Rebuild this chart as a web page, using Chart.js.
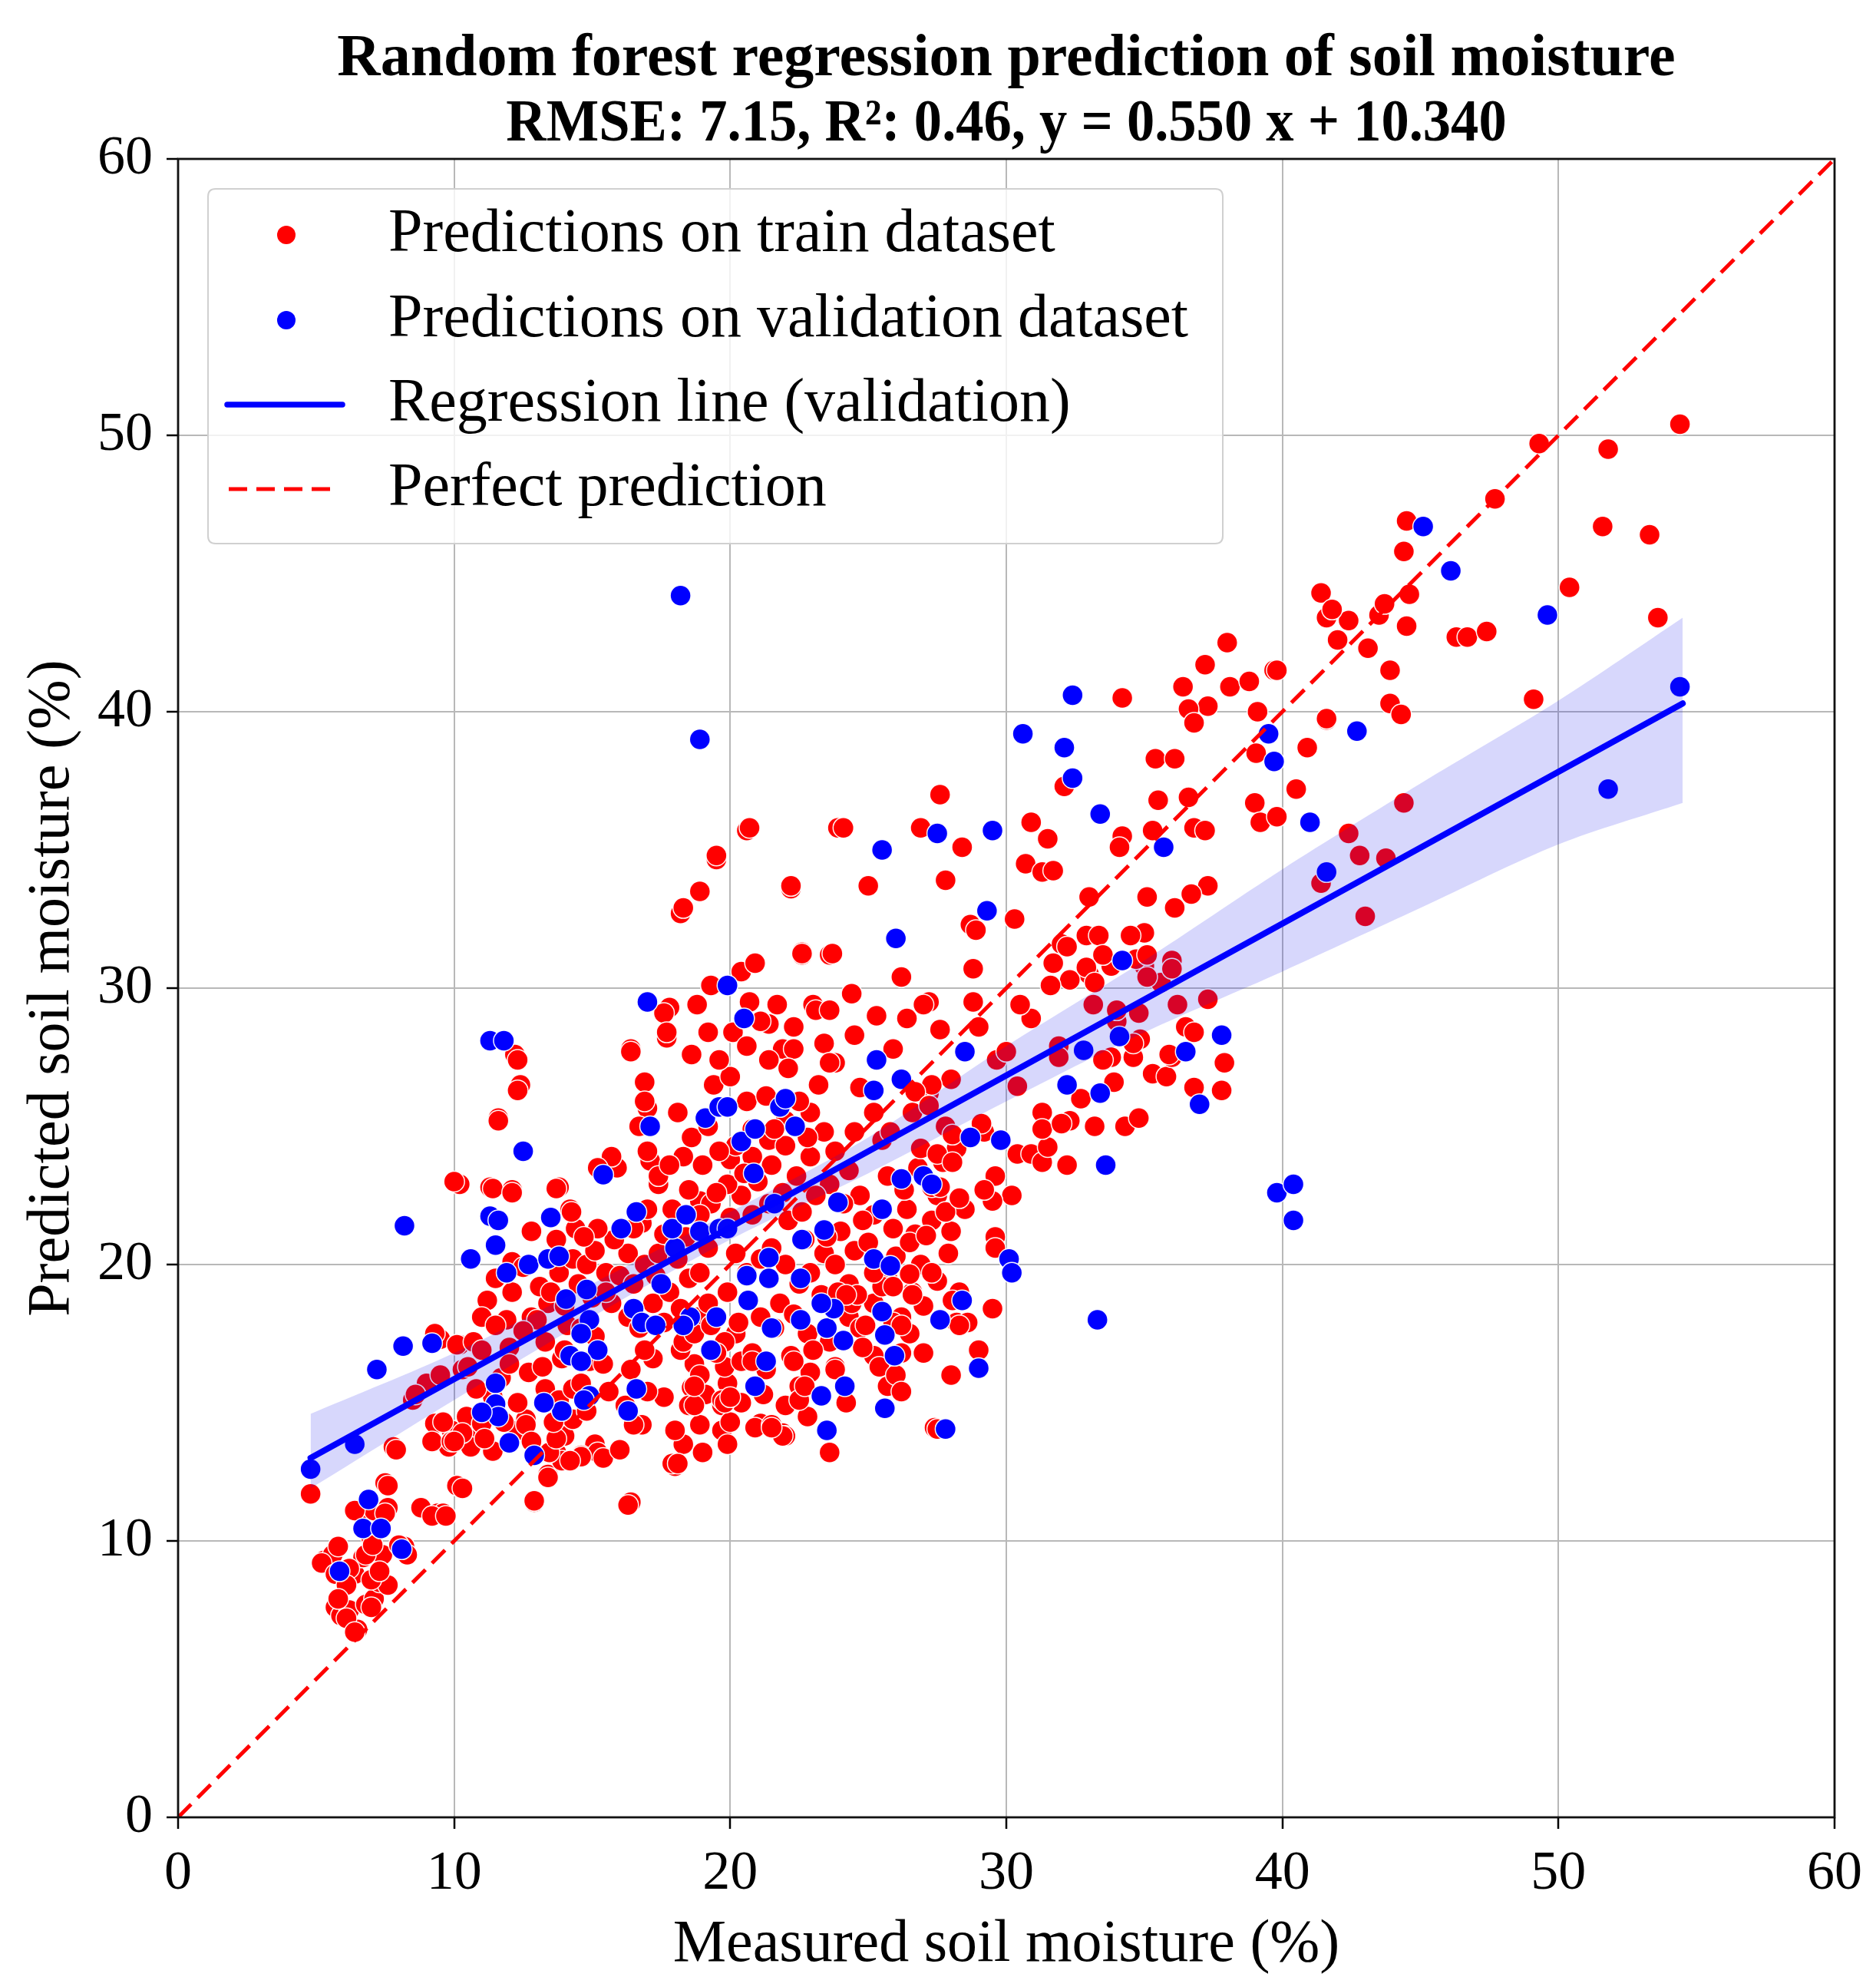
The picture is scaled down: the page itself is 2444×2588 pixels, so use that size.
<!DOCTYPE html>
<html><head><meta charset="utf-8">
<script src="https://cdn.jsdelivr.net/npm/chart.js@4.4.0/dist/chart.umd.min.js"></script>
<style>html,body{margin:0;padding:0;background:#fff}canvas{display:block}</style>
</head><body>
<canvas id="c" width="2444" height="2588" style="width:2444px;height:2588px"></canvas>
<script>
const titleLines = ['Random forest regression prediction of soil moisture', 'RMSE: 7.15, R\u00b2: 0.46, y = 0.550 x + 10.340'];
const xTitle = 'Measured soil moisture (%)';
const yTitle = 'Predicted soil moisture (%)';
const legendLabels = ['Predictions on train dataset', 'Predictions on validation dataset', 'Regression line (validation)', 'Perfect prediction'];
const axisMin = 0, axisMax = 60, axisStep = 10;

// Train predictions [measured, predicted]
const trainLowLeft = [[4.8,11.7],[5.3,9.3],[5.6,9.5],[5.8,9.8],[6.0,8.7],[5.7,7.6],[5.9,7.3],[6.2,7.5],[6.5,6.8],[6.8,7.7],[7.1,7.9],[7.3,8.5],[6.4,8.8],[6.7,9.4],[6.6,11.0],[7.1,11.1],[7.0,10.1],[7.5,12.1],[7.6,11.2],[7.4,9.5],[7.6,8.4],[8.2,9.8],[7.8,13.4],[8.8,11.2],[9.4,11.0],[9.6,11.0],[10.1,12.0],[9.8,13.4],[8.5,15.1],[9.0,15.7],[9.5,16.0],[9.5,17.3],[10.2,17.1],[10.2,22.9],[9.9,14.0],[10.7,14.0],
[5.2,9.2],[5.7,8.8],[6.2,9.0],[6.1,8.4],[5.8,7.9],[6.1,7.2],[6.4,6.7],[7.0,7.6],[6.8,9.5],[7.0,8.6],[7.3,8.9],[7.6,12.0],[7.5,11.0],[6.4,11.1],[7.05,9.85],[7.9,13.3],[8.3,9.5],[8.0,9.85],[9.2,10.9],[9.7,10.9],[10.3,11.9],[8.6,15.3],[9.3,17.5],[10.1,17.1],[10.3,16.2],[9.3,14.25],[9.2,13.6],[9.9,13.6],[10.5,13.7],[10.45,14.5],[11.0,14.25],[11.4,13.25],[12.3,14.0],[12.6,14.4]];
const trainMid = [[10.6,13.4],[11.1,13.7],[11.4,15.2],[11.7,15.9],[12.0,17.0],[11.9,18.0],[11.2,18.7],[11.5,19.5],[12.1,20.1],[12.1,19.0],[11.0,18.1],[10.7,17.2],[11.6,25.3],[12.2,27.6],[12.4,26.5],[12.1,22.7],[11.3,22.8],[12.6,14.2],[12.9,11.4],[13.4,12.4],[13.7,13.2],[14.0,13.8],[14.3,14.4],[12.7,16.1],[13.3,15.5],[13.8,15.1],[14.3,15.5],[14.8,14.7],[14.6,15.7],[13.3,17.2],[13.9,16.6],[12.8,18.1],[13.4,18.6],[14.1,17.8],[14.6,17.7],[15.1,17.4],[13.1,19.2],[13.8,19.7],[14.3,20.2],[14.8,20.0],[15.5,19.7],[13.7,20.9],[14.4,21.3],[13.8,22.8],[14.2,22.0],[15.9,23.5],[15.1,20.5],[15.7,18.6],[14.9,16.5],[15.6,15.4],[16.2,14.9],[15.1,13.5],[14.6,13.1],[12.5,19.9],[12.8,21.2],[16.4,11.4],
[10.0,23.0],[12.3,26.3],[11.6,25.2],[11.4,22.75],[12.1,22.6],[13.7,22.75],[14.25,21.9],[15.7,23.9],[15.2,23.5],[17.1,23.75],[17.4,22.9],[18.1,25.5],[16.9,26.6],[17.0,25.65],[20.0,23.8],[18.9,22.3],[18.0,12.7],[16.3,11.3],[13.4,12.3],[12.9,11.45],[15.2,13.2],[14.6,13.05],[13.9,12.9],[13.45,13.2],[13.7,13.7],[16.8,14.2],[18.7,14.95],[18.6,15.55],[18.7,16.4],[19.7,14.9],[19.9,15.7],[18.2,16.9],[20.2,17.5],[21.1,14.25],
[13.0,18.0],[13.5,19.0],[14.0,18.5],[14.5,19.3],[15.0,18.8],[15.5,19.0],[16.0,19.6],[16.3,20.4],[15.8,20.9],[15.2,21.3],[14.7,21.0],[16.8,21.5],[12.5,17.6],[12.0,16.4],[11.5,17.8],[11.0,16.9],[10.5,16.3],[10.8,15.5],[12.3,15.0],[12.8,13.6],[13.6,14.3],[14.2,12.9],[15.4,13.0],[16.0,13.3],[10.3,13.9],[10.0,13.6],[9.6,14.3],[11.8,14.3],[13.2,16.3],[14.0,16.9],[15.4,16.4],[16.4,16.2],[17.2,16.6],[17.6,15.2]];
const trainCenter = [[16.3,18.1],[16.7,17.7],[16.9,16.9],[16.5,19.3],[16.9,20.0],[17.4,20.4],[16.5,21.3],[17.0,22.0],[17.6,21.1],[18.1,20.2],[18.5,19.5],[18.9,19.7],[19.2,20.6],[19.7,21.3],[20.2,20.4],[20.6,19.7],[21.1,20.2],[21.5,20.6],[22.0,20.0],[22.5,19.3],[22.9,19.7],[23.4,20.4],[23.8,20.0],[24.3,19.3],[22.7,20.9],[22.1,21.6],[21.4,22.2],[20.8,21.8],[20.4,22.5],[19.9,22.9],[19.3,22.2],[18.5,22.7],[17.9,22.0],[17.4,23.2],[17.0,24.1],[16.7,25.0],[16.9,25.9],[16.4,27.8],[17.7,28.2],[17.8,29.3],[18.8,29.4],[19.3,30.1],[20.4,30.6],[18.6,27.6],[19.2,28.4],[19.4,26.5],[19.9,25.7],[20.6,25.9],[20.8,24.9],[21.3,26.1],[21.4,28.7],[21.9,27.8],[23.0,29.4],[23.4,28.0],[23.8,27.3],[24.4,29.8],[24.7,26.4],[25.2,25.5],[25.5,24.5],[25.7,23.2],[25.9,27.8],
[21.1,18.1],[21.6,17.7],[22.2,16.7],[22.5,15.6],[22.9,16.1],[20.9,14.1],[21.5,14.2],[21.9,13.9],[18.5,14.9],[19.1,15.3],[17.9,12.8],[19.7,15.1],[19.8,16.3],[20.4,16.5],[18.3,17.2],[17.6,17.9],[17.2,18.6],[18.8,18.1],[19.2,18.6],[19.9,19.0],[23.6,17.2],[23.8,16.3],[24.3,18.1],[24.7,17.7],[25.2,18.6],[25.7,19.5],[26.2,18.1],[26.1,15.5],[25.9,17.9],[26.6,19.0],[26.9,20.0],[27.3,21.6],[27.5,22.5],[27.7,23.7],[27.4,14.1],[28.2,17.9],[28.3,19.0],[27.9,20.4],[26.7,21.1],[26.4,22.0],[25.9,21.3],[25.2,21.8],[24.7,22.5],[24.3,23.4],[23.8,24.1],[23.4,24.8],[22.9,25.5],[22.5,25.9],[22.0,25.2],[21.4,24.5],[22.0,24.3],[22.9,23.9],[23.6,22.9],[24.1,22.2],[23.1,22.5],[22.4,23.2],[21.5,23.6],[20.8,23.9],[20.2,24.3],[19.6,24.1],[19.0,23.6],[18.3,23.9],
[16.5,14.2],[17.0,15.4],[18.3,13.5],[18.9,14.2],[19.7,14.0],[19.9,13.5],[18.1,12.8],[25.7,15.6],[26.2,16.8],[25.2,16.7],[24.4,18.6],
[17.3,19.6],[17.8,19.0],[18.2,18.4],[18.7,17.5],[19.3,17.8],[19.8,17.2],[20.3,17.9],[20.8,16.8],[21.3,16.2],[21.8,18.6],[22.3,18.2],[22.8,17.5],[23.3,18.9],[23.9,19.0],[24.5,20.5],[25.0,20.8],[25.5,19.2],[26.0,20.3],[26.5,20.8],[27.0,18.5],[27.5,19.4],[28.0,21.2],[28.5,22.0],[24.8,21.6],[24.0,21.2],[23.5,21.0],[22.6,21.9],[21.9,22.6],[21.0,23.0],[20.5,23.3],[20.0,21.7],[19.5,22.6],[18.9,21.8],[18.4,21.0],[17.8,23.6],[18.6,24.6],[19.2,25.0],[20.0,26.8],[21.6,24.9],[22.8,24.6],[23.2,26.5],[24.5,24.8],[25.8,24.8],[26.6,25.5],[27.2,26.2],[27.8,25.0],[28.2,24.2],[29.2,24.8],[26.8,23.5],[26.3,22.7],
[18.9,16.0],[19.5,16.8],[20.4,15.0],[21.2,15.3],[22.0,14.9],[22.8,14.5],[23.6,13.2],[24.2,15.0],[25.4,16.3],[24.8,17.0],[20.0,14.3],[19.0,13.2],[18.0,14.0],[23.0,16.9],[22.0,13.8],[28.6,17.9],[29.0,16.9],[28.0,16.0],[27.0,16.8],[26.0,16.0],[26.5,17.5],[29.5,18.4],[30.2,22.5],[29.6,21.0],[27.3,22.8]];
const trainUpperMid = [[20.6,35.7],[19.5,34.65],[18.9,33.5],[18.2,32.7],[22.2,33.6],[20.9,30.9],[22.6,31.2],[23.6,31.2],[23.9,35.8],[19.3,30.1],[17.6,29.1],[17.7,28.4],[16.4,27.7],[12.3,27.4],[19.6,27.4],[20.1,28.4],[20.6,27.9],[20.7,29.5],[21.1,28.8],[21.4,27.4],[23.1,29.2],[22.3,27.8],[22.1,27.1],[23.6,27.3],
[29.6,20.6],[29.6,23.2],[29.5,22.3],[29.2,22.7],[30.4,24.0],[30.9,24.0],[31.3,23.7],[31.5,24.25],[31.3,25.5],[31.3,24.9],[32.3,25.2],[32.2,23.6],[34.3,25.0],[30.4,26.45],[37.9,27.3],[37.8,26.3],[36.8,26.4],[36.5,28.6],[35.3,26.9],[35.8,26.8],[36.0,27.5],[34.6,27.5],[33.9,26.6],[33.8,27.5],[34.85,28.15],[34.8,29.1],[34.0,28.8],[33.15,29.4],[37.3,29.6],[31.9,27.9],[31.9,27.5],[29.65,27.4],[30.9,28.9],[30.5,29.4],[29.1,25.1],[29.0,28.6],[28.8,29.5],[27.2,29.5],[28.0,26.7],[27.3,26.5],[26.7,26.25],[27.2,25.75],[28.05,24.7],[26.9,24.2],[27.5,24.0],[28.05,23.7],[27.8,21.9],[27.1,21.05],[27.9,20.4],[28.3,22.4],[27.6,22.8],[27.3,19.7],[26.6,18.9],[25.9,19.2],[26.5,19.65],[28.3,17.8],[28.05,18.7],[26.2,17.8],[24.9,17.8],[26.2,15.4],[27.5,14.05],[23.8,16.2],[22.5,15.1],[22.7,15.6],[22.3,16.5],[21.9,13.8],[21.5,14.1],[18.7,14.9],[19.8,15.0],[20.0,15.2],[18.7,15.6],[20.8,16.5],[24.6,18.9],[24.2,18.9],[25.2,19.7],
[21.7,29.4],[22.3,28.6],[23.6,29.2],[24.5,28.3],[25.3,29.0],[26.4,28.9],[27.0,29.4],[27.6,28.5],[26.2,30.4],[28.8,30.7],[30.0,27.7],[32.0,25.1],[32.7,26.0],[33.5,27.4],[33.8,30.8],[33.0,30.5],[32.3,30.3],[32.0,31.6],[34.0,29.2],[35.0,30.8],[35.6,30.2],[36.0,31.0],[35.0,32.0],[36.2,29.4],[34.6,28.0],[33.2,25.0],[34.8,25.3],[35.9,27.6],[36.8,28.4],[20.7,35.8],[22.6,31.3],[25.0,33.7],[18.3,32.9],[19.5,34.8]];
const trainUpper = [[34.2,40.5],[38.0,42.5],[37.2,41.7],[36.4,40.9],[38.1,40.9],[38.8,41.1],[39.7,41.5],[37.3,40.2],[36.6,40.1],[36.8,39.6],[39.1,40.0],[39.05,38.5],[40.9,38.7],[41.6,39.7],[41.4,44.3],[41.6,43.4],[42.4,43.3],[41.8,43.7],[42.0,42.6],[43.1,42.3],[43.5,43.5],[35.4,38.3],[36.1,38.3],[35.5,36.8],[36.6,36.9],[39.0,36.7],[40.5,37.2],[39.2,36.0],[39.8,36.2],[36.8,35.8],[37.2,35.7],[35.3,35.7],[34.2,35.5],[34.1,35.1],[42.4,35.6],[42.8,34.8],[41.4,33.8],[43.0,32.6],[32.1,37.3],[30.9,36.0],[31.5,35.4],[30.7,34.5],[31.3,34.2],[31.7,34.25],[30.3,32.5],[28.7,32.3],[28.9,32.1],[22.6,31.25],[23.7,31.25],[22.2,33.7],[25.0,33.7],[27.8,33.9],[24.1,35.8],[26.9,35.8],[28.4,35.1],[27.6,37.0],[33.0,33.3],[32.2,31.5],[31.7,30.9],[31.6,30.1],[32.9,31.9],[33.35,31.9],[34.5,31.9],[33.5,31.2],[34.7,31.05],[35.1,31.2],[32.9,30.75],[35.1,30.4],[36.0,30.7],[33.2,30.2],[37.3,33.7],[36.7,33.4],[36.1,32.9],[35.1,33.3],
[54.4,50.4],[51.8,49.5],[49.3,49.7],[47.7,47.7],[51.6,46.7],[53.3,46.4],[44.5,46.9],[44.4,45.8],[43.7,43.9],[44.6,44.25],[44.5,43.1],[43.9,41.5],[43.9,40.3],[44.3,39.9],[39.8,41.5],[41.6,39.75],[44.4,36.7],[43.75,34.7],[46.3,42.7],[46.7,42.7],[47.4,42.9],[50.4,44.5],[53.6,43.4],[49.1,40.45]];

// Validation predictions [measured, predicted]
const valLow = [[8.2,21.4],[12.5,24.1],[15.4,23.25],[17.1,25.0],[19.1,25.3],[19.6,25.7],[19.9,25.7],[20.4,24.45],[20.9,24.9],[20.85,23.3],[11.3,21.75],[11.6,21.6],[13.5,21.7],[11.5,20.7],[10.6,20.2],[11.9,19.7],[12.7,20.0],[13.4,20.2],[13.8,20.3],[14.05,18.75],[14.8,19.1],[14.9,18.0],[14.6,17.5],[15.2,16.9],[14.2,16.7],[14.6,16.5],[16.05,21.3],[16.6,21.9],[16.5,18.4],[16.8,17.9],[17.3,17.8],[17.5,19.3],[18.0,20.6],[17.9,21.3],[18.4,21.8],[18.9,21.2],[18.55,18.1],[18.3,17.8],[19.5,18.1],[19.3,16.9],[19.6,21.3],[19.9,21.3],[20.6,19.6],[20.65,18.7],[20.9,15.6],[16.6,15.5],[16.3,14.7],[14.9,15.25],[14.7,15.1],[13.9,14.7],[13.25,15.0],[12.0,13.55],[12.9,13.1],[11.5,15.7],[11.5,14.95],[11.6,14.5],[11.0,14.65],[9.2,17.15],[8.15,17.05],[7.2,16.2],[6.4,13.5],[4.8,12.6],[6.9,11.5],[6.7,10.45],[7.35,10.45],[8.1,9.7],[5.85,8.9]];
const valMid = [[18.2,44.2],[18.9,39.0],[19.9,30.1],[17.0,29.5],[11.3,28.1],[11.8,28.1],[20.5,28.9],
[39.8,22.6],[40.4,22.9],[40.4,21.6],[33.3,18.0],[33.6,23.6],[30.1,20.2],[30.2,19.7],[29.0,16.25],[32.2,26.5],[33.4,26.2],[32.8,27.75],[34.1,28.25],[36.5,27.7],[37.0,25.8],[37.8,28.3],[29.8,24.5],[28.7,24.6],[28.5,27.7],[27.8,14.05],[28.4,18.7],[27.6,18.0],[25.95,16.7],[25.6,14.8],[24.15,15.6],[23.3,15.25],[23.5,14.0],[21.3,16.5],[21.5,17.7],[22.55,18.0],[23.5,17.7],[23.75,18.4],[23.3,18.6],[24.1,17.25],[25.5,18.3],[25.6,17.45],[25.2,20.2],[25.8,19.95],[25.5,22.0],[26.2,23.1],[27.0,23.2],[27.3,22.9],[23.9,22.25],[23.4,21.25],[22.6,20.9],[21.4,20.25],[21.4,19.5],[22.55,19.5],[21.6,22.2],[22.35,25.0],[21.8,25.7],[22.0,26.0],[25.3,27.4],[25.2,26.3],[26.2,26.7]];
const valHigh = [[32.4,40.6],[39.5,39.2],[39.7,38.2],[42.7,39.3],[41.0,36.0],[41.6,34.2],[33.4,36.3],[32.4,37.6],[32.1,38.7],[30.6,39.2],[35.7,35.1],[29.3,32.8],[26.0,31.8],[25.5,35.0],[27.5,35.6],[29.5,35.7],[34.2,31.0],[45.1,46.7],[46.1,45.1],[49.6,43.5],[51.8,37.2],[54.4,40.9]];

// Regression line (validation) and its confidence band
const regX = [4.8, 54.5];
const regY = [13.0, 40.3];
const perfectX = [0, 60];
const perfectY = [0, 60];
const bandX = [4.8, 10, 15, 20, 25, 30, 35, 40, 45, 50, 54.5];
const bandUpper = [14.6, 16.8, 19.3, 21.9, 24.6, 27.9, 31.0, 34.3, 37.4, 40.4, 43.4];
const bandLower = [11.9, 15.1, 18.1, 20.9, 23.3, 25.9, 28.4, 30.6, 32.9, 35.2, 36.7];

const SERIF = '"Liberation Serif", "DejaVu Serif", serif';
const toXY = (arr) => arr.map(p => ({x: p[0], y: p[1]}));
const zipXY = (xs, ys) => xs.map((x, i) => ({x: x, y: ys[i]}));
const trainAll = [].concat(trainLowLeft, trainMid, trainCenter, trainUpperMid, trainUpper);
const valAll = [].concat(valLow, valMid, valHigh);

const decorPlugin = {
  id: 'decor',
  afterDraw(chart) {
    const ctx = chart.ctx, a = chart.chartArea;
    ctx.save();
    // title
    ctx.fillStyle = '#000';
    ctx.textAlign = 'center';
    ctx.textBaseline = 'alphabetic';
    ctx.font = 'bold 78px ' + SERIF;
    const cx = (a.left + a.right) / 2;
    ctx.fillText(titleLines[0], cx, 98);
    ctx.save();
    ctx.translate(cx, 183);
    ctx.scale(0.93, 1);
    ctx.fillText(titleLines[1], 0, 0);
    ctx.restore();
    // legend box
    const bx = 271, by = 246, bw = 1322, bh = 462, r = 10;
    ctx.beginPath();
    ctx.moveTo(bx + r, by);
    ctx.lineTo(bx + bw - r, by); ctx.quadraticCurveTo(bx + bw, by, bx + bw, by + r);
    ctx.lineTo(bx + bw, by + bh - r); ctx.quadraticCurveTo(bx + bw, by + bh, bx + bw - r, by + bh);
    ctx.lineTo(bx + r, by + bh); ctx.quadraticCurveTo(bx, by + bh, bx, by + bh - r);
    ctx.lineTo(bx, by + r); ctx.quadraticCurveTo(bx, by, bx + r, by);
    ctx.closePath();
    ctx.fillStyle = 'rgba(255,255,255,0.8)';
    ctx.fill();
    ctx.strokeStyle = '#d0d0d0';
    ctx.lineWidth = 2;
    ctx.stroke();
    const rows = [306, 417, 527, 637];
    // markers
    ctx.beginPath(); ctx.arc(373, rows[0], 12, 0, Math.PI * 2); ctx.fillStyle = '#ff0000'; ctx.fill();
    ctx.beginPath(); ctx.arc(373, rows[1], 12, 0, Math.PI * 2); ctx.fillStyle = '#0000ff'; ctx.fill();
    ctx.beginPath(); ctx.moveTo(296, rows[2]); ctx.lineTo(446, rows[2]);
    ctx.strokeStyle = '#0000ff'; ctx.lineWidth = 7.5; ctx.lineCap = 'round'; ctx.setLineDash([]); ctx.stroke();
    ctx.lineCap = 'butt';
    ctx.beginPath(); ctx.moveTo(298, rows[3]); ctx.lineTo(434, rows[3]);
    ctx.strokeStyle = '#ff0000'; ctx.lineWidth = 5; ctx.setLineDash([24, 12]); ctx.stroke();
    ctx.setLineDash([]);
    ctx.fillStyle = '#000';
    ctx.textAlign = 'left';
    ctx.textBaseline = 'middle';
    ctx.font = '80px ' + SERIF;
    legendLabels.forEach((t, i) => ctx.fillText(t, 506, rows[i]));
    // frame
    ctx.strokeStyle = '#111';
    ctx.lineWidth = 2.8;
    ctx.strokeRect(a.left, a.top, a.right - a.left, a.bottom - a.top);
    ctx.restore();
  }
};

const tickFont = {family: SERIF, size: 72};
const titleFont = {family: SERIF, size: 78};

new Chart(document.getElementById('c'), {
  type: 'scatter',
  data: {
    datasets: [
      {label: legendLabels[0], data: toXY(trainAll), backgroundColor: '#ff0000', borderColor: 'rgba(255,255,255,0.95)', borderWidth: 1.5, pointRadius: 13.5, pointHoverRadius: 13.5, order: 6},
      {label: legendLabels[1], data: toXY(valAll), backgroundColor: '#0000ff', borderColor: 'rgba(255,255,255,0.95)', borderWidth: 1.5, pointRadius: 13.5, pointHoverRadius: 13.5, order: 5},
      {label: 'band lower', type: 'line', showLine: true, data: zipXY(bandX, bandLower), borderWidth: 0, borderColor: 'rgba(0,0,0,0)', pointRadius: 0, fill: false, tension: 0.3, order: 4},
      {label: 'band upper', type: 'line', showLine: true, data: zipXY(bandX, bandUpper), borderWidth: 0, borderColor: 'rgba(0,0,0,0)', pointRadius: 0, fill: {target: 2}, backgroundColor: 'rgba(20,20,235,0.17)', tension: 0.3, order: 4},
      {label: legendLabels[3], type: 'line', showLine: true, data: zipXY(perfectX, perfectY), borderColor: '#ff0000', borderWidth: 5, borderDash: [24, 12], pointRadius: 0, fill: false, order: 2},
      {label: legendLabels[2], type: 'line', showLine: true, data: zipXY(regX, regY), borderColor: '#0000ff', borderWidth: 8, borderCapStyle: 'round', pointRadius: 0, fill: false, order: 1}
    ]
  },
  options: {
    responsive: false,
    devicePixelRatio: 1,
    animation: false,
    events: [],
    layout: {padding: {top: 207, right: 54, left: 0, bottom: 0}},
    plugins: {legend: {display: false}, tooltip: {enabled: false}, title: {display: false}},
    scales: {
      x: {
        type: 'linear', min: axisMin, max: axisMax,
        ticks: {stepSize: axisStep, color: '#000', font: tickFont, padding: 16, maxRotation: 0},
        grid: {color: '#b8b8b8', lineWidth: 2, tickColor: '#000', tickLength: 15, tickWidth: 2.5},
        border: {display: false},
        title: {display: true, text: xTitle, color: '#000', font: titleFont, padding: {top: 0, bottom: 8}},
        afterFit: (s) => { s.height = 221; }
      },
      y: {
        type: 'linear', min: axisMin, max: axisMax,
        ticks: {stepSize: axisStep, color: '#000', font: tickFont, padding: 18},
        grid: {color: '#b8b8b8', lineWidth: 2, tickColor: '#000', tickLength: 15, tickWidth: 2.5},
        border: {display: false},
        title: {display: true, text: yTitle, color: '#000', font: titleFont, padding: {top: 22, bottom: 0}},
        afterFit: (s) => { s.width = 232; }
      }
    }
  },
  plugins: [decorPlugin]
});
</script>
</body></html>
